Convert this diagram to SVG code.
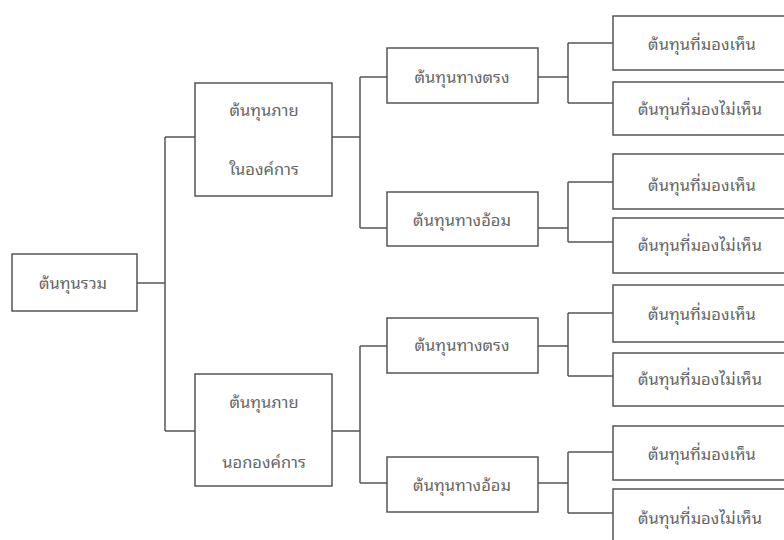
<svg xmlns="http://www.w3.org/2000/svg" width="784" height="540" viewBox="0 0 784 540">
<style>
.box{fill:#fff;stroke:#555;stroke-width:1.5}
.t{font-family:"Noto Sans Thai Looped","Noto Sans Thai","Noto Sans","DejaVu Sans",sans-serif;font-size:16.5px;fill:#666;text-anchor:middle;dominant-baseline:central}
.c{fill:none;stroke:#555;stroke-width:1.5}
</style>
<rect width="784" height="540" fill="#fff"/>
<g id="connectors">
<path class="c" d="M137 283H165M165 137V431M165 137H195M165 431H195"/>
<path class="c" d="M332 137H360M360 77V228M360 77H387M360 228H387"/>
<path class="c" d="M332 431H360M360 346V483M360 346H387M360 483H387"/>
<path class="c" d="M538 77H568M568 43V103M568 43H613M568 103H613"/>
<path class="c" d="M538 228H568M568 182V242M568 182H613M568 242H613"/>
<path class="c" d="M538 346H568M568 313V376M568 313H613M568 376H613"/>
<path class="c" d="M538 483H568M568 452V513M568 452H613M568 513H613"/>
</g>
<g id="root"><rect class="box" x="12" y="254" width="125" height="57"/><text class="t" x="73" y="281">ต้นทุนรวม</text></g>
<g id="internal"><rect class="box" x="195" y="83" width="137" height="113"/><text class="t" x="264" y="108">ต้นทุนภาย</text><text class="t" x="264" y="167">ในองค์การ</text></g>
<g id="external"><rect class="box" x="195" y="374" width="137" height="112"/><text class="t" x="264" y="400">ต้นทุนภาย</text><text class="t" x="264" y="460">นอกองค์การ</text></g>
<g id="int-direct"><rect class="box" x="387" y="48" width="151" height="55"/><text class="t" x="462" y="75">ต้นทุนทางตรง</text></g>
<g id="int-indirect"><rect class="box" x="387" y="192" width="151" height="54"/><text class="t" x="462" y="218">ต้นทุนทางอ้อม</text></g>
<g id="ext-direct"><rect class="box" x="387" y="318" width="151" height="55"/><text class="t" x="462" y="343">ต้นทุนทางตรง</text></g>
<g id="ext-indirect"><rect class="box" x="387" y="457" width="151" height="55"/><text class="t" x="462" y="483">ต้นทุนทางอ้อม</text></g>
<g id="v1"><rect class="box" x="613" y="16" width="180" height="54"/><text class="t" x="702" y="42">ต้นทุนที่มองเห็น</text></g>
<g id="nv1"><rect class="box" x="613" y="82" width="180" height="53"/><text class="t" x="700" y="107">ต้นทุนที่มองไม่เห็น</text></g>
<g id="v2"><rect class="box" x="613" y="154" width="180" height="55"/><text class="t" x="702" y="183">ต้นทุนที่มองเห็น</text></g>
<g id="nv2"><rect class="box" x="613" y="218" width="180" height="55"/><text class="t" x="700" y="243">ต้นทุนที่มองไม่เห็น</text></g>
<g id="v3"><rect class="box" x="613" y="285" width="180" height="57"/><text class="t" x="702" y="312">ต้นทุนที่มองเห็น</text></g>
<g id="nv3"><rect class="box" x="613" y="353" width="180" height="53"/><text class="t" x="700" y="377">ต้นทุนที่มองไม่เห็น</text></g>
<g id="v4"><rect class="box" x="613" y="426" width="180" height="54"/><text class="t" x="702" y="452">ต้นทุนที่มองเห็น</text></g>
<g id="nv4"><rect class="box" x="613" y="489" width="180" height="60"/><text class="t" x="700" y="516">ต้นทุนที่มองไม่เห็น</text></g>
</svg>
